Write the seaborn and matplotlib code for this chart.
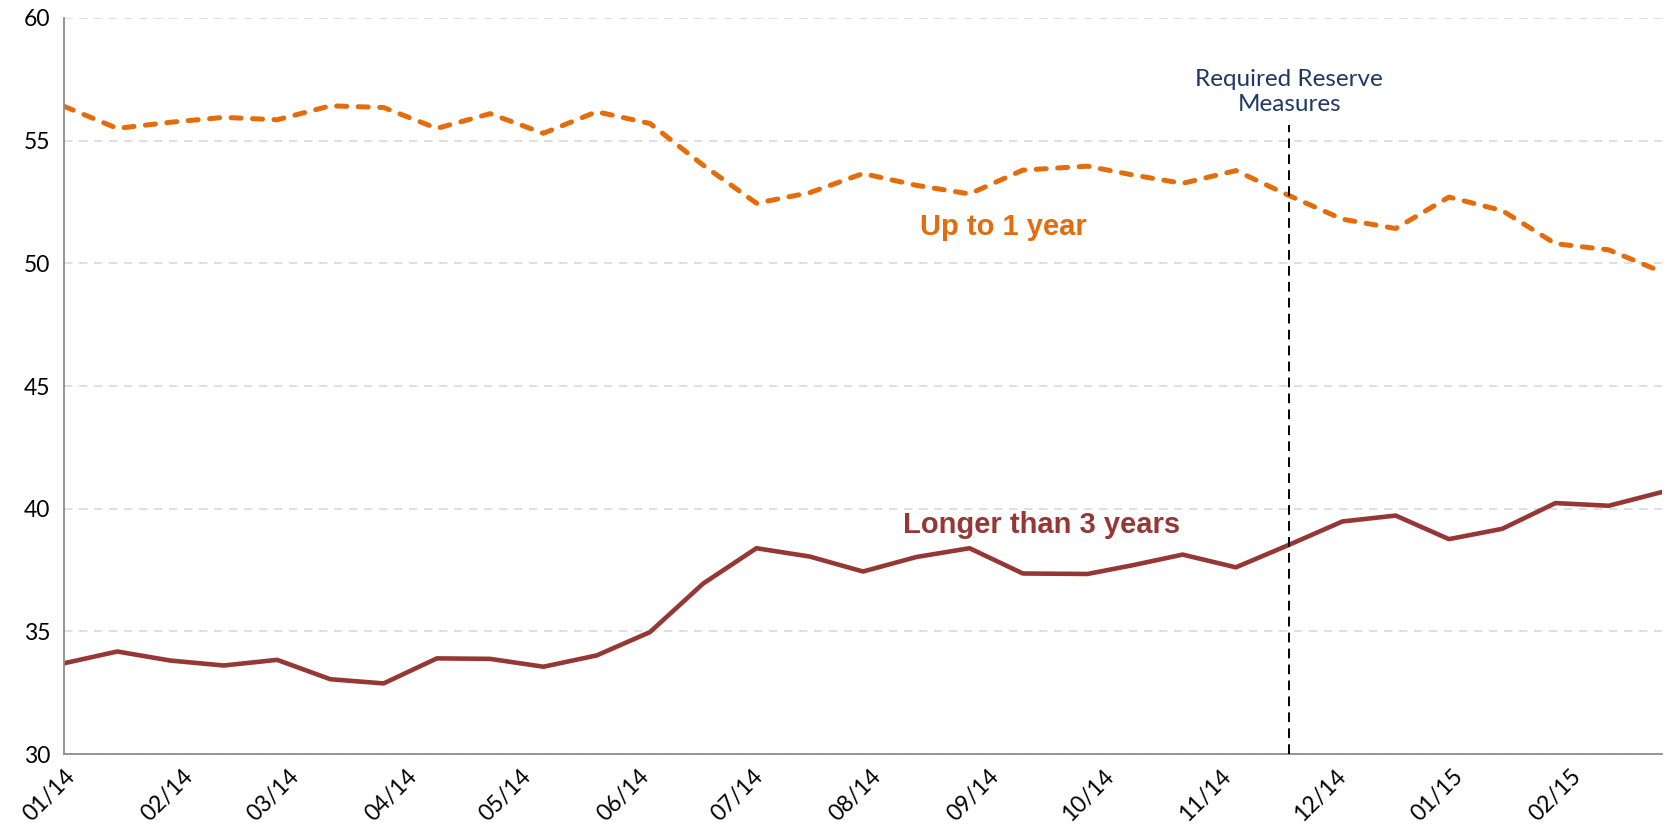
import matplotlib
matplotlib.use("Agg")
import matplotlib.pyplot as plt
import matplotlib.dates as mdates
import seaborn as sns
import pandas as pd

# biweekly observation dates (one late-September print shifted)
dates = ["2014-01-01", "2014-01-15", "2014-01-29", "2014-02-12", "2014-02-26",
         "2014-03-12", "2014-03-26", "2014-04-09", "2014-04-23", "2014-05-07",
         "2014-05-21", "2014-06-04", "2014-06-18", "2014-07-02", "2014-07-16",
         "2014-07-30", "2014-08-13", "2014-08-27", "2014-09-10", "2014-09-27",
         "2014-10-09", "2014-10-22", "2014-11-05", "2014-11-19", "2014-12-03",
         "2014-12-17", "2014-12-31", "2015-01-14", "2015-01-28", "2015-02-11",
         "2015-02-25"]

up_to_1y = [56.4, 55.5, 55.75, 55.95, 55.85, 56.42, 56.35, 55.5, 56.1, 55.3,
            56.18, 55.7, 54.0, 52.45, 52.88, 53.66, 53.18, 52.83, 53.8, 53.96,
            53.6, 53.26, 53.78, 52.76, 51.8, 51.42, 52.7, 52.15, 50.8, 50.55,
            49.65]

over_3y = [33.7, 34.18, 33.81, 33.61, 33.84, 33.05, 32.88, 33.9, 33.88, 33.56,
           34.02, 34.97, 36.95, 38.39, 38.05, 37.44, 38.03, 38.39, 37.36, 37.34,
           37.7, 38.13, 37.61, 38.53, 39.48, 39.72, 38.76, 39.18, 40.23, 40.12,
           40.68]

measure_date = "2014-11-19"
measure_label = "Required Reserve\nMeasures"

orange = "#E46C0A"
darkred = "#953735"
navy = "#1F3864"

df = pd.DataFrame({"date": pd.to_datetime(dates),
                   "Up to 1 year": up_to_1y,
                   "Longer than 3 years": over_3y})

sns.set_style("white")
plt.rcParams["font.family"] = ["Lato", "DejaVu Sans"]

fig, ax = plt.subplots(figsize=(16.67, 8.36), dpi=100)
fig.subplots_adjust(left=0.0384, right=0.997, top=0.9785, bottom=0.098)

ax.yaxis.grid(True, color="#D9D9D9", linestyle=(0, (5, 4)), linewidth=1.2)
ax.set_axisbelow(True)

sns.lineplot(data=df, x="date", y="Up to 1 year", ax=ax, color=orange,
             linewidth=3.6)
orange_line = ax.lines[-1]
orange_line.set_linestyle((0, (2.0, 2.3)))
orange_line.set_dash_capstyle("round")
sns.lineplot(data=df, x="date", y="Longer than 3 years", ax=ax,
             color=darkred, linewidth=3.3)

mdate = pd.Timestamp(measure_date)
ax.plot([mdate, mdate], [30, 55.65], color="black", linewidth=1.4,
        linestyle=(0, (5, 3.2)), zorder=3)
ax.text(mdate, 56.05, measure_label, ha="center", va="bottom",
        color=navy, fontsize=17.5, linespacing=1.2)

ax.text(pd.Timestamp("2014-09-05"), 51.16, "Up to 1 year", color=orange,
        fontsize=21, fontweight="bold", ha="center", va="baseline",
        family=["Liberation Sans", "DejaVu Sans"])
ax.text(pd.Timestamp("2014-09-15"), 39.03, "Longer than 3 years",
        color=darkred, fontsize=21, fontweight="bold", ha="center",
        va="baseline", family=["Liberation Sans", "DejaVu Sans"])

ax.set_xlim(pd.Timestamp("2014-01-01"), pd.Timestamp("2015-02-25"))
ax.set_ylim(30, 60)
ax.set_yticks(range(30, 61, 5))
ax.xaxis.set_major_locator(mdates.MonthLocator())
ax.xaxis.set_major_formatter(mdates.DateFormatter("%m/%y"))
ax.set_xlabel("")
ax.set_ylabel("")

for side in ["top", "right"]:
    ax.spines[side].set_visible(False)
for side in ["left", "bottom"]:
    ax.spines[side].set_color("#8C8C8C")
    ax.spines[side].set_linewidth(1.3)

ax.tick_params(axis="both", direction="out", length=7, width=1.3,
               color="#8C8C8C", labelsize=16.5, labelcolor="black")
ax.tick_params(axis="y", pad=3)
ax.tick_params(axis="x", pad=1)
plt.setp(ax.get_xticklabels(), rotation=45, ha="right",
         rotation_mode="anchor")

fig.savefig("out.png", dpi=100)
